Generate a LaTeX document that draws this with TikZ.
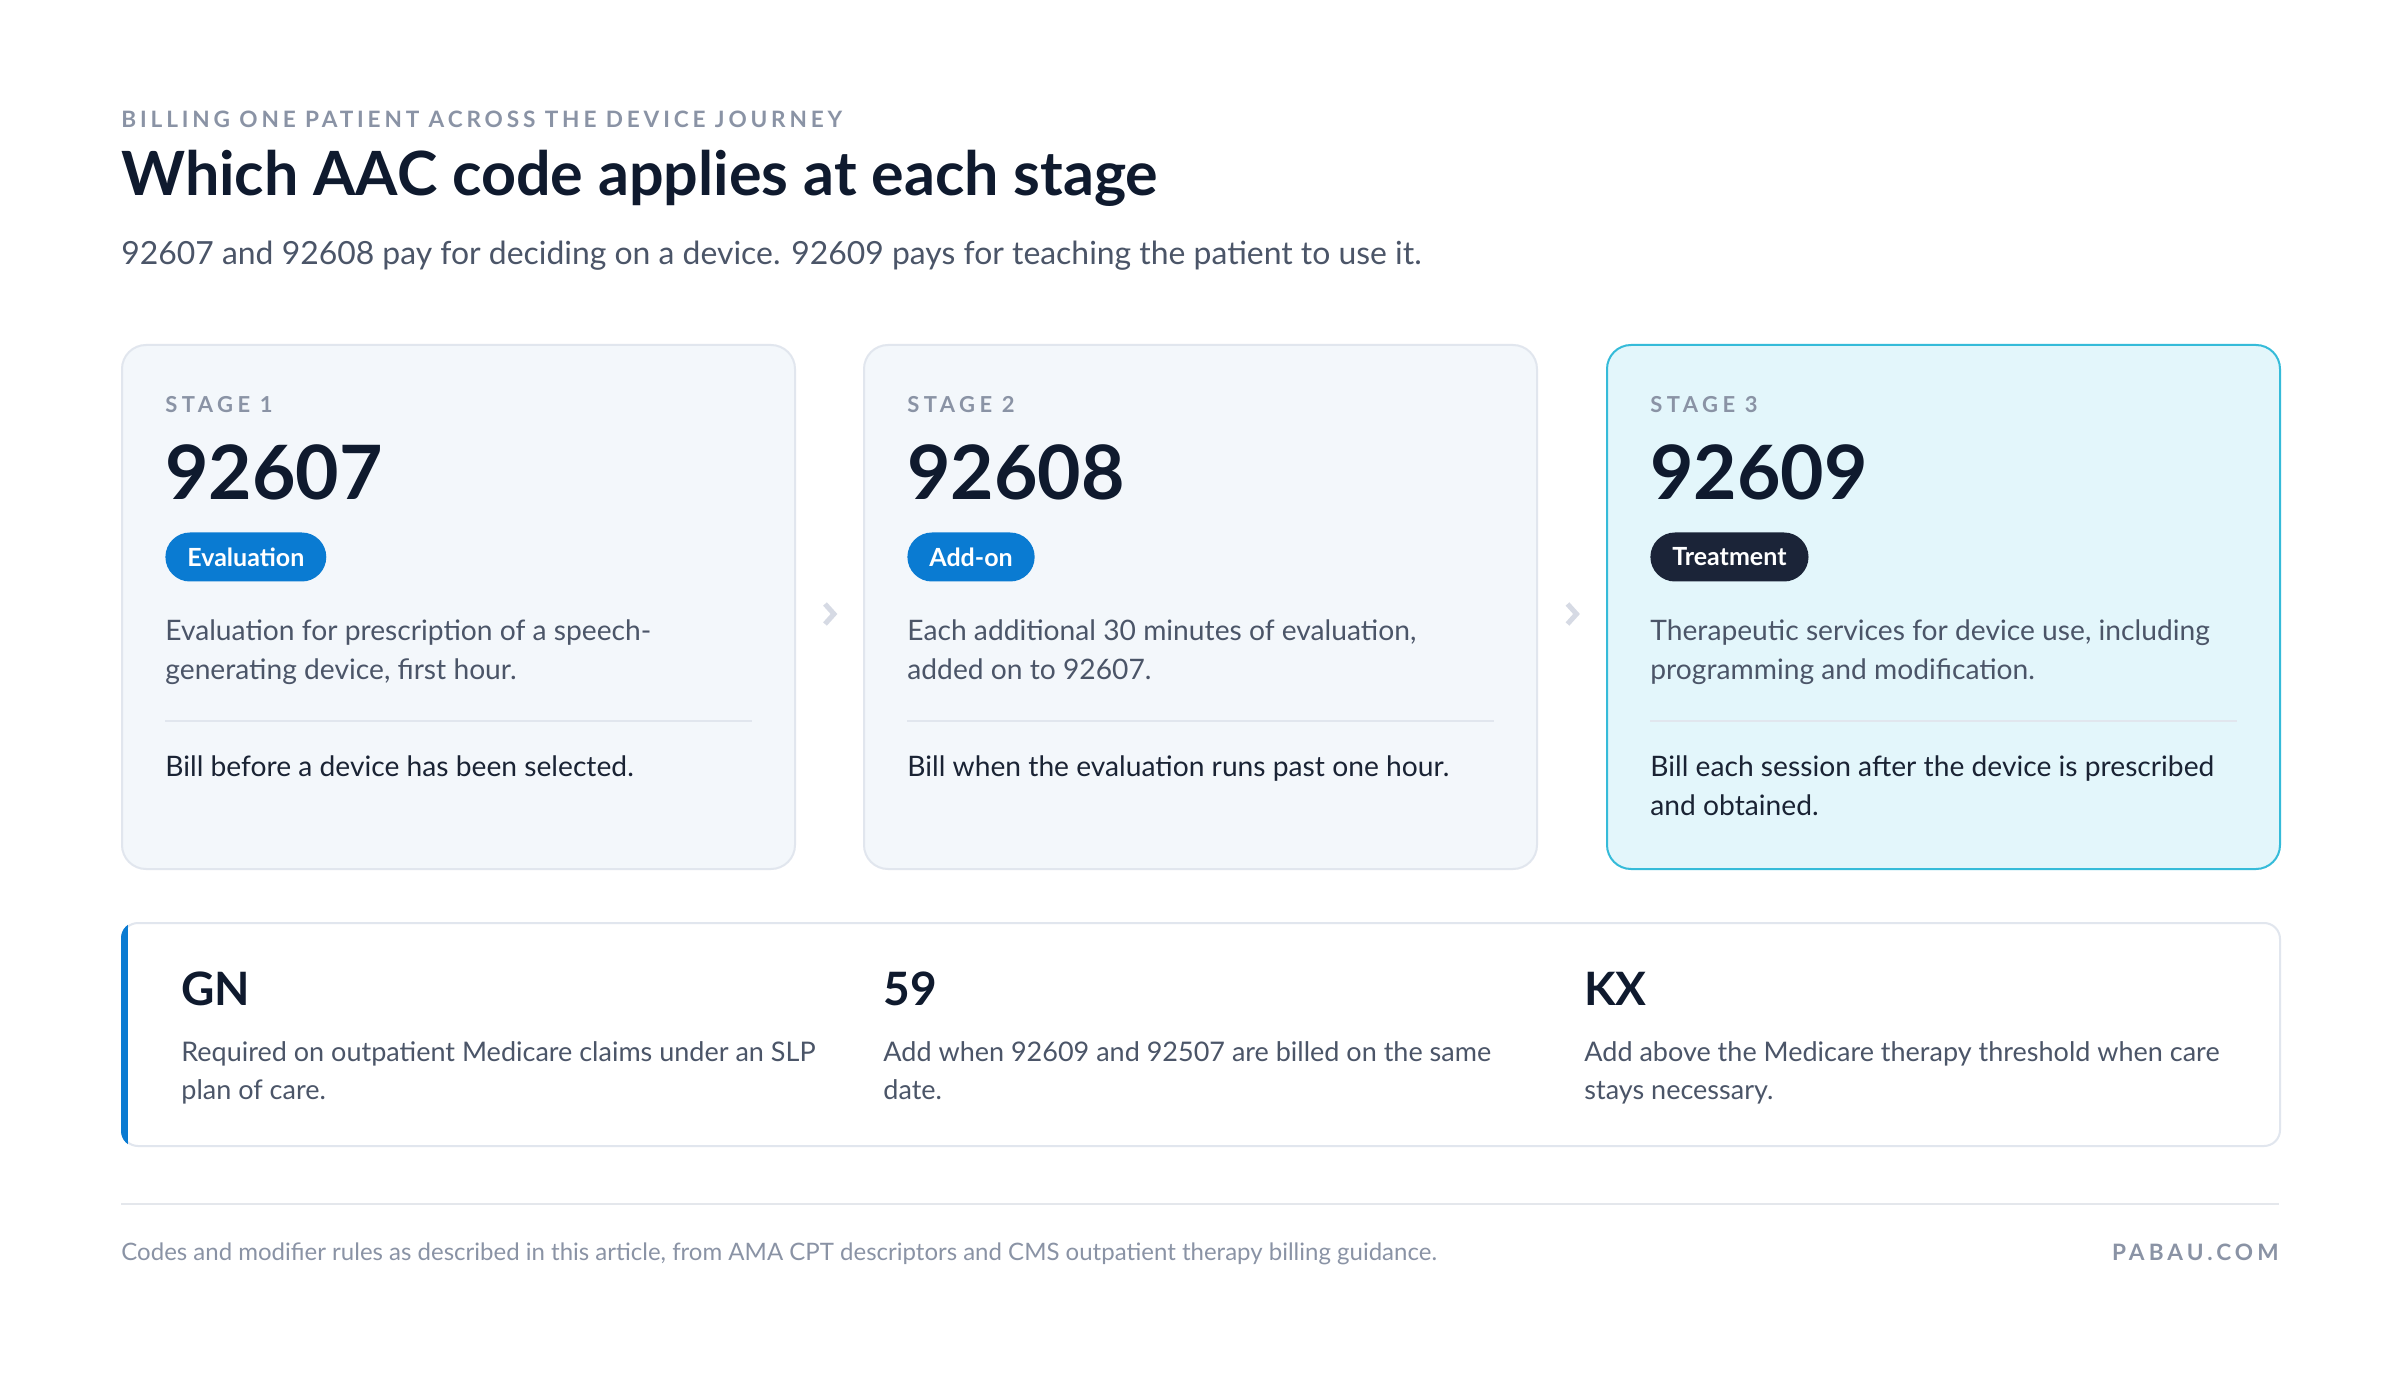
\documentclass[tikz,border=0pt]{standalone}
\usepackage{fontspec}
\setmainfont{Lato}
\usetikzlibrary{positioning,calc}

\definecolor{ink}{HTML}{0F1A2E}
\definecolor{muted}{HTML}{8A93A5}
\definecolor{body}{HTML}{4B5568}
\definecolor{billtext}{HTML}{1A2334}
\definecolor{cardbg}{HTML}{F3F7FB}
\definecolor{cardline}{HTML}{E1E6EE}
\definecolor{hlbg}{HTML}{E3F6FB}
\definecolor{hlline}{HTML}{35BBD9}
\definecolor{accent}{HTML}{0A7BD2}
\definecolor{pilldark}{HTML}{1B2438}
\definecolor{chev}{HTML}{D6DAE4}
\definecolor{rulegray}{HTML}{E4E7EC}

\begin{document}
\begin{tikzpicture}[x=0.5pt,y=-0.5pt,
    card/.style={draw=cardline,fill=cardbg,line width=1pt,rounded corners=12pt,
      minimum width=336.5pt,minimum height=262pt,anchor=north west,inner sep=0pt},
    hl card/.style={card,draw=hlline,fill=hlbg},
    pill/.style={fill=accent,text=white,rounded corners=12.25pt,minimum height=24.5pt,
      inner xsep=11pt,inner ysep=0pt,anchor=west,font=\fontsize{12.5}{12.5}\selectfont\bfseries},
    dark pill/.style={pill,fill=pilldark},
    stage/.style={anchor=base west,inner sep=0pt,text=muted,
      font=\fontsize{11}{11}\selectfont\bfseries\addfontfeature{LetterSpace=20}},
    code/.style={anchor=base west,inner sep=0pt,text=ink,font=\fontsize{37.5}{37.5}\selectfont\bfseries},
    desc/.style={anchor=north west,inner sep=0pt,align=left,text=body,
      font=\fontsize{14.1}{19.5}\selectfont},
    bill/.style={desc,text=billtext},
    moddesc/.style={desc,font=\fontsize{13.5}{19}\selectfont},
    divider/.style={draw=cardline,line width=1pt},
    chevron/.style={draw=chev,line width=2.5pt,line join=miter},
    modcode/.style={anchor=base west,inner sep=0pt,text=ink,font=\fontsize{23}{23}\selectfont\bfseries}]

  % page
  \fill[white] (0,0) rectangle (2400,1374);
  \useasboundingbox (0,0) rectangle (2400,1374);

  % heading
  \node[anchor=base west,inner sep=0pt,text=muted,
    font=\fontsize{11.3}{11.3}\selectfont\bfseries\addfontfeature{LetterSpace=17}]
    (eyebrow) at (121,128) {BILLING ONE PATIENT ACROSS THE DEVICE JOURNEY};
  \node[anchor=base west,inner sep=0pt,text=ink,font=\fontsize{30.5}{30.5}\selectfont\bfseries]
    (title) at (121,196) {Which AAC code applies at each stage};
  \node[anchor=base west,inner sep=0pt,text=body,font=\fontsize{15.95}{15.95}\selectfont]
    (lead) at (121,265) {92607 and 92608 pay for deciding on a device. 92609 pays for teaching the patient to use it.};

  % stage cards
  \foreach \n/\x/\cs/\ps/\code/\tag/\what/\when in {
      1/121/card/pill/92607/Evaluation/{Evaluation for prescription of a speech-\\generating device, first hour.}/{Bill before a device has been selected.},
      2/863/card/pill/92608/Add-on/{Each additional 30 minutes of evaluation,\\added on to 92607.}/{Bill when the evaluation runs past one hour.},
      3/1606/hl card/dark pill/92609/Treatment/{Therapeutic services for device use, including\\programming and modification.}/{Bill each session after the device is prescribed\\and obtained.}} {
    \node[\cs] (card\n) at (\x,344) {};
    \node[stage] (stage\n) at ([shift={(44,69)}]card\n.north west) {STAGE \n};
    \node[code] (code\n) at ([shift={(44,156)}]card\n.north west) {\code};
    \node[\ps] (tag\n) at ([shift={(44,213)}]card\n.north west) {\tag};
    \node[desc] (what\n) at ([shift={(44,275.5)}]card\n.north west) {\what};
    \draw[divider] ([shift={(44,377)}]card\n.north west) -- ([shift={(-44,377)}]card\n.north east);
    \node[bill] (when\n) at ([shift={(44,411.5)}]card\n.north west) {\when};
  }

  % arrows between stages
  \foreach \a/\b in {1/2, 2/3} {
    \coordinate (gap\a) at ($(card\a.east)!0.5!(card\b.west)+(0,7)$);
    \draw[chevron] ([shift={(-4.5,-10)}]gap\a) -- ([shift={(4.5,0)}]gap\a) -- ([shift={(-4.5,10)}]gap\a);
  }

  % modifier panel
  \node[draw=cardline,fill=white,line width=1pt,rounded corners=8pt,anchor=north west,
    minimum width=1079pt,minimum height=111.5pt,inner sep=0pt] (mods) at (121,922) {};
  \begin{scope}
    \clip[rounded corners=8pt] (mods.north west) rectangle (mods.south east);
    \fill[accent] (mods.north west) rectangle ([xshift=3.5pt]mods.south west);
  \end{scope}
  \foreach \m/\x/\txt in {
      GN/60/{Required on outpatient Medicare claims under an SLP\\plan of care.},
      59/762/{Add when 92609 and 92507 are billed on the same\\date.},
      KX/1463/{Add above the Medicare therapy threshold when care\\stays necessary.}} {
    \node[modcode] (mod\m) at ([shift={(\x,83)}]mods.north west) {\m};
    \node[moddesc] (modtxt\m) at ([shift={(\x,119.5)}]mods.north west) {\txt};
  }

  % footer
  \draw[rulegray,line width=1pt] (121,1204) -- (2279,1204);
  \node[anchor=base west,inner sep=0pt,text=muted,font=\fontsize{12}{12}\selectfont]
    (source) at (121,1260) {Codes and modifier rules as described in this article, from AMA CPT descriptors and CMS outpatient therapy billing guidance.};
  \node[anchor=base east,inner sep=0pt,text=muted,
    font=\fontsize{11.3}{11.3}\selectfont\bfseries\addfontfeature{LetterSpace=18}]
    (brand) at (2279,1260) {PABAU.COM};
\end{tikzpicture}
\end{document}
